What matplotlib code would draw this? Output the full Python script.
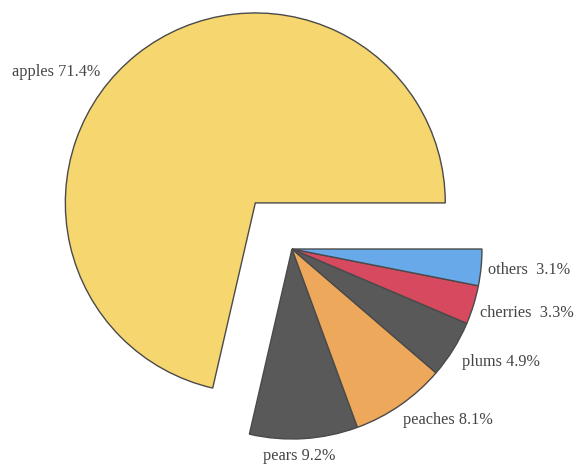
import numpy as np
import matplotlib.pyplot as plt

fruits = ['apples', 'pears', 'peaches', 'plums', 'cherries', 'others']
shares = [71.4, 9.2, 8.1, 4.9, 3.3, 3.1]
colors = ['#F6D66E', '#595959', '#EDA85C', '#595959', '#D6495E', '#68A9E9']
explode = [0.31, 0, 0, 0, 0, 0]

plt.rcParams['font.family'] = ['Liberation Serif', 'DejaVu Serif']

fig = plt.figure(figsize=(5.76, 4.66), dpi=100)
ax = fig.add_axes([0, 0, 1, 1])

labels = ['%s %.1f%%' % (f, s) for f, s in zip(fruits, shares)]
labels[4] = labels[4].replace(' ', '  ')
labels[5] = labels[5].replace(' ', '  ')
wedges, texts = ax.pie(shares, labels=labels, colors=colors, explode=explode,
                       startangle=0, counterclock=True, labeldistance=1.08,
                       wedgeprops=dict(edgecolor='#4a4a4a', linewidth=1.0),
                       textprops=dict(fontsize=11.7, color='#444444'))

# hand-placed label anchors (data units, radius = 1)
label_pos = [(-1.01, 0.93), (-0.153, -1.09), (0.584, -0.90),
             (0.895, -0.595), (0.989, -0.337), (1.032, -0.111)]
for t, p in zip(texts, label_pos):
    t.set_position(p)
    t.set_ha('right' if p[0] < -0.5 else 'left')
    t.set_va('center')

ax.set_aspect('equal')
ax.set_xlim(-1.537, 1.495)
ax.set_ylim(-1.142, 1.3105)
ax.axis('off')

fig.savefig('out.png', dpi=100)
